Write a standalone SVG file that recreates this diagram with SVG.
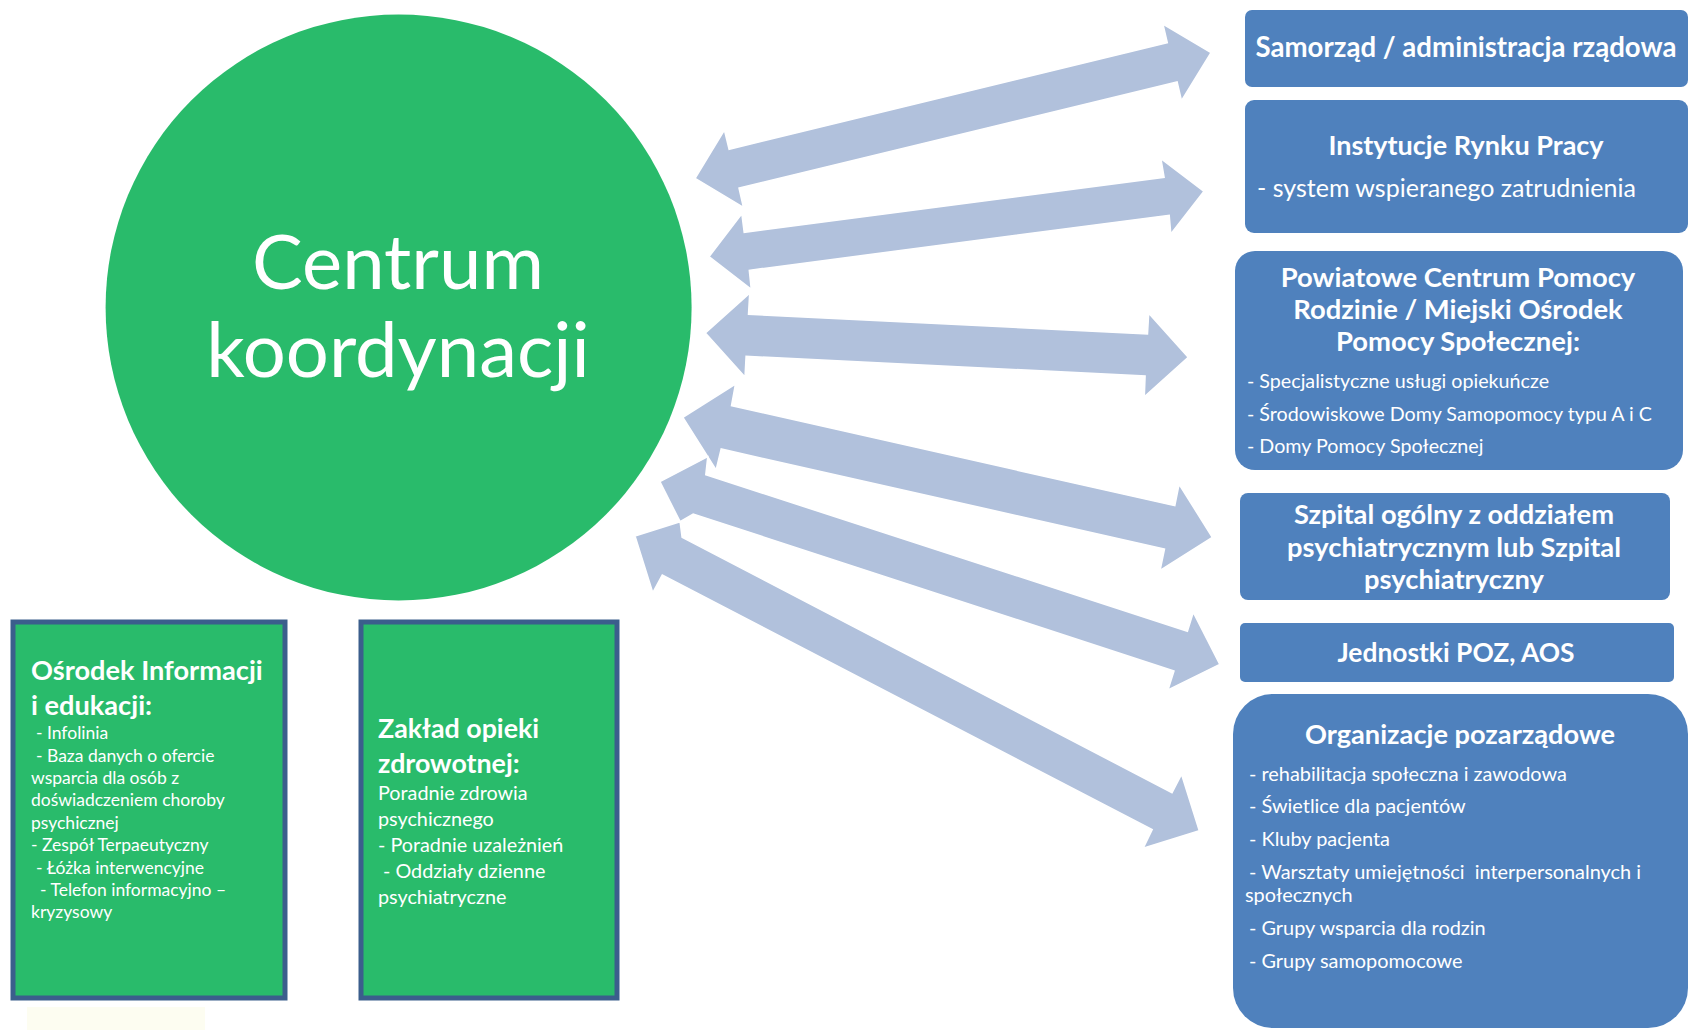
<svg xmlns="http://www.w3.org/2000/svg" width="1689" height="1030" viewBox="0 0 1689 1030">
<style>
.t{font-family:Lato,"Open Sans","Liberation Sans",sans-serif;fill:#ffffff}
.b{font-weight:bold}
.c{text-anchor:middle}
.blue{fill:#4f81bd}
.gbox{fill:#29bb6b;stroke:#3b5e8c;stroke-width:5}
.arr{fill:#b1c1dc;stroke:#ffffff;stroke-width:1.5;stroke-linejoin:miter}
</style>
<rect x="0" y="0" width="1689" height="1030" fill="#ffffff"/>
<rect x="27" y="1007" width="178" height="23" fill="#fdfdf1"/>

<g id="centrum">
<circle cx="398.6" cy="307.5" r="293" fill="#29bb6b"/>
<text class="t c" x="398" y="289" font-size="76">Centrum</text>
<text class="t c" x="398" y="377" font-size="76">koordynacji</text>
</g>

<g id="connectors">
<polygon class="arr" points="695.1,178.3 724.4,130 729.1,149.3 1167.3,42.7 1162.9,24 1211,52.7 1181.5,100.7 1177.1,82 739,188 743.4,207.3"/>
<polygon class="arr" points="709,256.7 741.8,213.7 744.2,232.3 1164.1,177.3 1160.9,158.7 1204,191.3 1170.8,234 1169.2,215.3 749.3,270.3 751.3,289.3"/>
<polygon class="arr" points="705.4,333 749.7,293.3 748.5,314.3 1147.5,334 1148.7,313.3 1188.2,357.3 1144.3,396.7 1145.1,376 746.1,356.3 745,377"/>
<polygon class="arr" points="682.9,417.3 735.5,384 731.5,405.7 1174.8,505.7 1179.1,484.3 1212.3,537.3 1160.1,570.3 1164.5,549 721.2,449 716.1,470"/>
<polygon class="arr" points="659.9,481.7 707.8,456.7 705.8,474.7 1187.4,631.3 1193.3,612.3 1219.8,664.3 1168,690 1174,671 693.2,514 680.1,521.7"/>
<polygon class="arr" points="635,536 680.1,521.7 682.1,537.3 1172,792.7 1181.5,774.3 1199.3,830.7 1143.1,848.3 1152.2,829.7 662.3,575 652.8,592.7"/>
</g>

<g id="osrodek">
<rect class="gbox" x="13" y="622" width="272" height="376"/>
<text class="t b" x="31" y="680" font-size="27.2">Ośrodek Informacji</text>
<text class="t b" x="31" y="715" font-size="27.2">i edukacji:</text>
<g class="t" font-size="17.5">
<text x="36" y="739">- Infolinia</text>
<text x="36" y="761.5">- Baza danych o ofercie</text>
<text x="31" y="784">wsparcia dla osób z</text>
<text x="31" y="806">doświadczeniem choroby</text>
<text x="31" y="829">psychicznej</text>
<text x="31" y="851">- Zespół Terpaeutyczny</text>
<text x="36" y="873.5">- Łóżka interwencyjne</text>
<text x="40" y="896">- Telefon informacyjno –</text>
<text x="31" y="918">kryzysowy</text>
</g>
</g>

<g id="zaklad">
<rect class="gbox" x="361" y="622" width="256" height="376"/>
<text class="t b" x="378" y="738" font-size="26.8">Zakład opieki</text>
<text class="t b" x="378" y="773" font-size="26.8">zdrowotnej:</text>
<g class="t" font-size="19.8">
<text x="378" y="800">Poradnie zdrowia</text>
<text x="378" y="826">psychicznego</text>
<text x="378" y="852">- Poradnie uzależnień</text>
<text x="383" y="878">- Oddziały dzienne</text>
<text x="378" y="904">psychiatryczne</text>
</g>
</g>

<g id="samorzad">
<rect class="blue" x="1245" y="10" width="443" height="77" rx="7"/>
<text class="t b c" x="1466" y="57" font-size="27.6">Samorząd / administracja rządowa</text>
</g>

<g id="instytucje">
<rect class="blue" x="1245" y="100" width="443" height="133" rx="9"/>
<text class="t b c" x="1466" y="155" font-size="27">Instytucje Rynku Pracy</text>
<text class="t" x="1257" y="197" font-size="25">- system wspieranego zatrudnienia</text>
</g>

<g id="powiatowe">
<rect class="blue" x="1235" y="251" width="448" height="219" rx="20"/>
<text class="t b c" x="1458" y="287" font-size="27.4">Powiatowe Centrum Pomocy</text>
<text class="t b c" x="1458" y="319" font-size="27.4">Rodzinie / Miejski Ośrodek</text>
<text class="t b c" x="1458" y="351" font-size="27.4">Pomocy Społecznej:</text>
<g class="t" font-size="19.7">
<text x="1247" y="388">- Specjalistyczne usługi opiekuńcze</text>
<text x="1247" y="421">- Środowiskowe Domy Samopomocy typu A i C</text>
<text x="1247" y="453">- Domy Pomocy Społecznej</text>
</g>
</g>

<g id="szpital">
<rect class="blue" x="1240" y="493" width="430" height="107" rx="8"/>
<text class="t b c" x="1454" y="524" font-size="27.3">Szpital ogólny z oddziałem</text>
<text class="t b c" x="1454" y="557" font-size="27.3">psychiatrycznym lub Szpital</text>
<text class="t b c" x="1454" y="589" font-size="27.3">psychiatryczny</text>
</g>

<g id="jednostki">
<rect class="blue" x="1240" y="623" width="434" height="59" rx="5"/>
<text class="t b c" x="1456" y="662" font-size="26.4">Jednostki POZ, AOS</text>
</g>

<g id="organizacje">
<rect class="blue" x="1233" y="694" width="455" height="334" rx="40"/>
<text class="t b c" x="1460" y="744" font-size="27.2">Organizacje pozarządowe</text>
<g class="t" font-size="19.9">
<text x="1249" y="781">- rehabilitacja społeczna i zawodowa</text>
<text x="1249" y="813">- Świetlice dla pacjentów</text>
<text x="1249" y="846">- Kluby pacjenta</text>
<text x="1249" y="879" xml:space="preserve">- Warsztaty umiejętności  interpersonalnych i</text>
<text x="1245" y="902">społecznych</text>
<text x="1249" y="935">- Grupy wsparcia dla rodzin</text>
<text x="1249" y="968">- Grupy samopomocowe</text>
</g>
</g>
</svg>
